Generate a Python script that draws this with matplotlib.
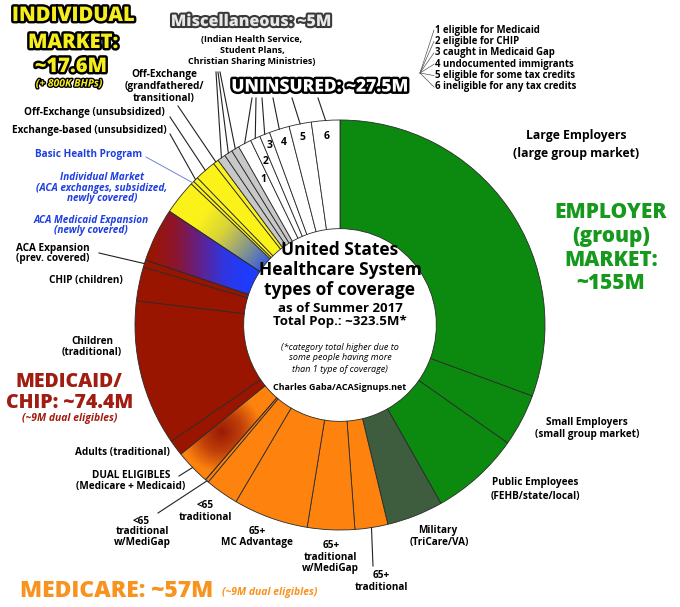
import numpy as np
import matplotlib.pyplot as plt
import matplotlib.patheffects as pe
from matplotlib.colors import LinearSegmentedColormap

plt.rcParams['font.family'] = ['Open Sans', 'DejaVu Sans']

# values in millions, clockwise from 12 o'clock
employer_names = ['Large Employers', 'Small Employers', 'Public Employees', 'Military']
employer_values = [113.6, 15.3, 26.1, 16.5]
medicare_names = ['65+ traditional', '65+ traditional w/MediGap', '65+ MC Advantage',
                  '<65 traditional', '<65 traditional w/MediGap']
medicare_values = [9.6, 13.8, 21.9, 9.8, 1.0]
dual_values = [10.3]
medicaid_names = ['Adults (traditional)', 'Children (traditional)', 'CHIP (children)',
                  'ACA Expansion (prev. covered)', 'ACA Medicaid Expansion']
medicaid_values = [4.6, 42.6, 9.9, 2.1, 15.7]
individual_names = ['Individual Market (subsidized)', 'Basic Health Program',
                    'Exchange-based (unsubsidized)', 'Off-Exchange (unsubsidized)',
                    'Off-Exchange (grandfathered)']
individual_values = [10.1, 1.0, 1.5, 6.2, 1.6]
misc_names = ['Indian Health Service', 'Student Plans', 'Christian Sharing Ministries']
misc_values = [2.4, 2.4, 2.3]
uninsured_names = ['eligible for Medicaid', 'eligible for CHIP', 'caught in Medicaid Gap',
                   'undocumented immigrants', 'eligible for some tax credits',
                   'ineligible for any tax credits']
uninsured_values = [3.9, 2.9, 3.0, 5.9, 6.5, 8.3]

values = (employer_values + medicare_values + dual_values + medicaid_values
          + individual_values + misc_values + uninsured_values)
colors = (['#0c8a0f'] * 3 + ['#3e5c3e'] + ['#fd830e'] * 5 + ['#fd830e']
          + ['#9a1500'] * 5 + ['#fbf21a'] * 5 + ['#c8c8c8'] * 3 + ['white'] * 6)

DUAL = len(employer_values) + len(medicare_values)
MCD = DUAL + 1
IND = MCD + len(medicaid_values)
MISC = IND + len(individual_values)
UNI = MISC + len(misc_values)

fig = plt.figure(figsize=(6.8, 6.07), dpi=100)
cx, cy, R = 340, 325, 205
ax = fig.add_axes([(cx - R) / 680, 1 - (cy + R) / 607, 2 * R / 680, 2 * R / 607])
wedges, _ = ax.pie(values, colors=colors, startangle=90, counterclock=False, radius=1,
                   wedgeprops=dict(width=0.53, edgecolor='#2a2a2a', linewidth=0.6))
ax.set_xlim(-1, 1)
ax.set_ylim(-1, 1)
ax.set_aspect('auto')

# gradient fills
gx, gy = np.meshgrid(np.linspace(-1, 1, 500), np.linspace(-1, 1, 500))


def grad_fill(idx, t, cols):
    cmap = LinearSegmentedColormap.from_list('g%d' % idx, cols)
    im = ax.imshow(np.clip(t, 0, 1), cmap=cmap, vmin=0, vmax=1, origin='lower',
                   extent=(-1, 1, -1, 1), zorder=0.9, interpolation='bilinear')
    im.set_clip_path(wedges[idx])
    wedges[idx].set_facecolor('none')


aca = MCD + 4
grad_fill(aca, (gx + 0.92) / 0.47, ['#9a1500', '#8c1530', '#62208a', '#3036e0', '#1e3cff'])
sub = IND
grad_fill(sub, ((gx * 0.8 - gy * 0.6) + 0.99) / 0.52,
          ['#fbf21a', '#fbf21a', '#d8d23a', '#8c9a86', '#3a5fd8'])
a = np.deg2rad(-138)
bx, by = 0.78 * np.cos(a), 0.78 * np.sin(a)
grad_fill(DUAL, np.hypot(gx - bx, gy - by) / 0.2, ['#9a1a05', '#c0400a', '#fd830e'])
ax.set_xlim(-1, 1)
ax.set_ylim(-1, 1)
ax.set_aspect('auto')

# overlay in pixel coordinates
ov = fig.add_axes([0, 0, 1, 1], zorder=5)
ov.set_xlim(0, 680)
ov.set_ylim(607, 0)
ov.axis('off')
ov.patch.set_alpha(0)


def wpt(idx, r=1.0, frac=0.5):
    w = wedges[idx]
    th = np.deg2rad(w.theta1 + frac * (w.theta2 - w.theta1))
    p = ax.transData.transform((r * np.cos(th), r * np.sin(th)))
    return ov.transData.inverted().transform(p)


def lead(x0, y0, idx, r=1.0, color='#222222', lw=0.8):
    x1, y1 = wpt(idx, r)
    ov.plot([x0, x1], [y0, y1], color=color, lw=lw)


def lab(x, y, s, size=7.2, color='black', style='normal', weight='bold', **kw):
    ov.text(x, y, s, ha='center', va='center', fontsize=size, color=color,
            fontstyle=style, fontweight=weight, linespacing=1.0, **kw)


# uninsured digits
for i, r in enumerate([0.80, 0.875, 0.94, 0.93, 0.93, 0.92]):
    x, y = wpt(UNI + i, r)
    lab(x, y, str(i + 1), size=7.5)

# center text
lab(340, 250, 'United States', size=12.5)
lab(340, 270, 'Healthcare System', size=12.5)
lab(340, 290, 'types of coverage', size=12.5)
lab(340, 308, 'as of Summer 2017', size=9.5)
lab(340, 321, 'Total Pop.: ~323.5M*', size=9.5)
lab(340, 347, '(*category total higher due to', size=6.5, style='italic', weight='normal')
lab(340, 358, 'some people having more', size=6.5, style='italic', weight='normal')
lab(340, 369, 'than 1 type of coverage)', size=6.5, style='italic', weight='normal')
lab(340, 388, 'Charles Gaba/ACASignups.net', size=6.5)

# group titles
stroke_k = [pe.withStroke(linewidth=3.5, foreground='black')]
lab(73, 16, 'INDIVIDUAL', size=14.5, color='#f6ee1c', weight='heavy', path_effects=stroke_k)
lab(73, 43, 'MARKET:', size=14.5, color='#f6ee1c', weight='heavy', path_effects=stroke_k)
lab(71, 67, '~17.6M', size=14.5, color='#f6ee1c', weight='heavy', path_effects=stroke_k)
lab(69, 84, '(+ 800K BHPs)', size=7.5, color='#f6ee1c', style='italic',
    path_effects=[pe.withStroke(linewidth=2, foreground='black')])
lab(251, 22, 'Miscellaneous: ~5M', size=11.5, color='#e8e8e8', weight='heavy',
    path_effects=[pe.withStroke(linewidth=3, foreground='#3a3a3a')])
lab(252, 40, '(Indian Health Service,', size=6.5)
lab(252, 50, 'Student Plans,', size=6.5)
lab(252, 61, 'Christian Sharing Ministries)', size=6.5)
lab(320, 87, 'UNINSURED: ~27.5M', size=12.5, color='white', weight='heavy', path_effects=stroke_k)
for j, t in enumerate(['EMPLOYER', '(group)', 'MARKET:', '~155M']):
    lab(611, 213 + j * 23.5, t, size=15, color='#16991c', weight='heavy')
lab(69, 382, 'MEDICAID/', size=14, color='#a11d12', weight='heavy')
lab(70, 403, 'CHIP: ~74.4M', size=14, color='#a11d12', weight='heavy')
lab(70, 419, '(~9M dual eligibles)', size=7.5, color='#a11d12', style='italic')
lab(117, 591, 'MEDICARE: ~57M', size=16.5, color='#f7931e', weight='heavy')
ov.text(222, 593, '(~9M dual eligibles)', ha='left', va='center', fontsize=7.5,
        color='#f7931e', fontstyle='italic', fontweight='bold')

# uninsured legend
for i, n in enumerate(uninsured_names):
    yy = 30 + i * 11.4
    ov.text(435, yy, '%d %s' % (i + 1, n), ha='left', va='center', fontsize=6.9,
            fontweight='bold')
    ov.plot([420, 434], [73, yy], color='#555555', lw=0.5)

# slice labels
lab(576, 136, 'Large Employers', size=8.8)
lab(576, 153, '(large group market)', size=8.8)
lab(587, 422, 'Small Employers', size=7.2)
lab(587, 434, '(small group market)', size=7.2)
lab(535, 483, 'Public Employees', size=7.2)
lab(535, 496, '(FEHB/state/local)', size=7.2)
lab(438, 531, 'Military', size=7.2)
lab(439, 543, '(TriCare/VA)', size=7.2)
lab(381, 576, '65+')
lab(381, 588, 'traditional')
lead(373, 566, len(employer_values))
lab(331, 546, '65+')
lab(330, 557, 'traditional')
lab(330, 568, 'w/MediGap')
lab(257, 532, '65+')
lab(257, 543, 'MC Advantage')
lab(205, 506, '<65')
lab(205, 517, 'traditional')
lab(141, 521, '<65')
lab(142, 532, 'traditional')
lab(142, 543, 'w/MediGap')
lead(158, 513, DUAL - 1)
lab(131, 475, 'DUAL ELIGIBLES')
lab(131, 486, '(Medicare + Medicaid)')
lead(179, 476, DUAL)
lab(122, 453, 'Adults (traditional)')
lab(92, 341, 'Children')
lab(92, 352, '(traditional)')
lab(86, 281, 'CHIP (children)')
lab(53, 248, 'ACA Expansion')
lab(53, 259, '(prev. covered)')
lead(99, 253, MCD + 3)
blue = '#1f3fe0'
lab(91, 220, 'ACA Medicaid Expansion', color=blue, style='italic')
lab(91, 231, '(newly covered)', color=blue, style='italic')
lab(102, 177, 'Individual Market', color=blue, style='italic')
lab(102, 188, '(ACA exchanges, subsidized,', color=blue, style='italic')
lab(102, 199, 'newly covered)', color=blue, style='italic')
lab(89, 155, 'Basic Health Program', color=blue)
lead(146, 157, IND + 1, color='#6f86d8', lw=0.7)
lab(89, 130, 'Exchange-based (unsubsidized)')
lead(170, 134, IND + 2)
lab(94, 113, 'Off-Exchange (unsubsidized)')
lead(170, 117, IND + 3)
lab(164, 75, 'Off-Exchange')
lab(164, 87, '(grandfathered/')
lab(164, 98, 'transitional)')
lead(178, 106, IND + 4)
for k in range(3):
    lead(216 + 2 * k, 72, MISC + k)
for k, x0 in enumerate([252, 256, 262, 273, 292, 318]):
    lead(x0, 98, UNI + k)

fig.savefig('out.png', dpi=100, facecolor='white')
